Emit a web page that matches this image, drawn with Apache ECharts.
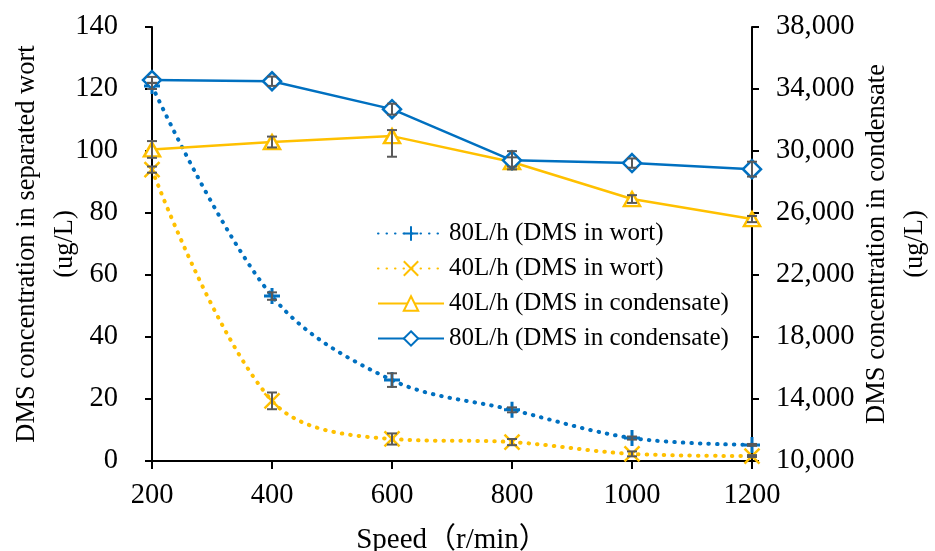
<!DOCTYPE html>
<html>
<head>
<meta charset="utf-8">
<script src="https://cdn.jsdelivr.net/npm/echarts@6/dist/echarts.min.js"></script>
<style>
  html, body { margin: 0; padding: 0; background: #fff; }
  #chart { width: 935px; height: 551px; }
</style>
</head>
<body>
<div id="chart"></div>
<script>
// speeds (r/min)
const speeds = [200, 400, 600, 800, 1000, 1200];

// DMS in wort (ug/L), left axis
const wort80 = [121, 53.2, 26.1, 16.5, 7.4, 5.2];
const wort40 = [94, 19.4, 7.1, 6.1, 2.3, 1.6];
// DMS in condensate (ug/L), right axis
const cond40 = [30100, 30580, 30960, 29290, 26900, 25610];
const cond80 = [34580, 34500, 32700, 29400, 29220, 28830];

// error bars: [minus, plus]
const wort80Err = [[1, 1], [1.2, 1.2], [2.2, 2.2], [0.8, 0.8], [0.5, 0.5], [0.3, 0.3]];
const wort40Err = [[1, 1], [2.7, 2.7], [1.8, 1.8], [1, 1], [0.8, 0.8], [0.3, 0.3]];
const cond40Err = [[540, 540], [350, 350], [1330, 390], [300, 300], [250, 250], [200, 200]];
const cond80Err = [[200, 200], [300, 300], [350, 350], [590, 590], [300, 300], [480, 480]];

const BLUE = '#0070C0';
const YELLOW = '#FFC000';
const GRAY = '#595959';
const FONT = '"Liberation Serif", "Times New Roman", "Noto Sans CJK SC", serif';

const PLUS = 'path://M0,5 L10,5 M5,0 L5,10';
const CROSS = 'path://M0,0 L10,10 M10,0 L0,10';

function pairs(ys) {
  return speeds.map((x, i) => [x, ys[i]]);
}

function errorSeries(ys, err, yIdx) {
  return {
    type: 'custom',
    yAxisIndex: yIdx,
    z: 5,
    silent: true,
    data: speeds.map((x, i) => [x, ys[i] - err[i][0], ys[i] + err[i][1]]),
    encode: { x: 0, y: [1, 2] },
    renderItem(params, api) {
      const lo = api.coord([api.value(0), api.value(1)]);
      const hi = api.coord([api.value(0), api.value(2)]);
      const w = 5;
      const style = { stroke: GRAY, lineWidth: 2 };
      return {
        type: 'group',
        children: [
          { type: 'line', shape: { x1: lo[0], y1: lo[1], x2: hi[0], y2: hi[1] }, style },
          { type: 'line', shape: { x1: lo[0] - w, y1: lo[1], x2: lo[0] + w, y2: lo[1] }, style },
          { type: 'line', shape: { x1: hi[0] - w, y1: hi[1], x2: hi[0] + w, y2: hi[1] }, style }
        ]
      };
    }
  };
}

const chart = echarts.init(document.getElementById('chart'), null, { renderer: 'canvas' });

const axisLine = { show: true, lineStyle: { color: '#000', width: 2 } };
const labelStyle = { color: '#000', fontFamily: FONT, fontSize: 28.5 };
const nameStyle = { color: '#000', fontFamily: FONT, fontSize: 26.5, lineHeight: 38 };

chart.setOption({
  backgroundColor: '#fff',
  animation: false,
  grid: { left: 152, right: 183, top: 27, bottom: 90, outerBoundsMode: 'none', containLabel: false },
  legend: {
    left: 372,
    top: 216,
    orient: 'vertical',
    itemWidth: 66,
    itemHeight: 18,
    itemGap: 10,
    textStyle: { color: '#000', fontFamily: FONT, fontSize: 25 },
    data: [
      '80L/h (DMS in wort)',
      '40L/h (DMS in wort)',
      '40L/h (DMS in condensate)',
      '80L/h (DMS in condensate)'
    ]
  },
  xAxis: {
    type: 'value',
    min: 200,
    max: 1200,
    interval: 200,
    name: 'Speed（r/min）',
    nameLocation: 'middle',
    nameGap: 60,
    nameMoveOverlap: false,
    nameTextStyle: Object.assign({}, nameStyle, { fontSize: 29 }),
    axisLine,
    axisTick: { show: true, length: 8, lineStyle: { color: '#000', width: 2 } },
    axisLabel: Object.assign({ margin: 20, formatter: v => String(v) }, labelStyle),
    splitLine: { show: false }
  },
  yAxis: [
    {
      type: 'value',
      position: 'left',
      min: 0,
      max: 140,
      interval: 20,
      name: 'DMS concentration in separated wort\n(ug/L)',
      nameLocation: 'middle',
      nameRotate: 90,
      nameGap: 68,
      nameMoveOverlap: false,
      nameTextStyle: nameStyle,
      axisLine,
      axisTick: { show: true, length: 7, lineStyle: { color: '#000', width: 2 } },
      axisLabel: Object.assign({ margin: 34 }, labelStyle),
      splitLine: { show: false }
    },
    {
      type: 'value',
      position: 'right',
      min: 10000,
      max: 38000,
      interval: 4000,
      name: 'DMS concentration in condensate\n(ug/L)',
      nameLocation: 'middle',
      nameRotate: 90,
      nameGap: 106,
      nameMoveOverlap: false,
      nameTextStyle: nameStyle,
      axisLine,
      axisTick: { show: true, length: 7, lineStyle: { color: '#000', width: 2 } },
      axisLabel: Object.assign({
        margin: 24,
        formatter: v => v.toLocaleString('en-US')
      }, labelStyle),
      splitLine: { show: false }
    }
  ],
  series: [
    {
      name: '80L/h (DMS in wort)',
      type: 'line',
      yAxisIndex: 0,
      data: pairs(wort80),
      smooth: 0.35,
      symbol: PLUS,
      symbolSize: 16,
      itemStyle: { color: BLUE, borderColor: BLUE, borderWidth: 3 },
      lineStyle: { color: BLUE, width: 4, type: [0.5, 8], cap: 'round' }
    },
    {
      name: '40L/h (DMS in wort)',
      type: 'line',
      yAxisIndex: 0,
      data: pairs(wort40),
      smooth: 0.35,
      symbol: CROSS,
      symbolSize: 15,
      itemStyle: { color: YELLOW, borderColor: YELLOW, borderWidth: 2.5 },
      lineStyle: { color: YELLOW, width: 4, type: [0.5, 8], cap: 'round' }
    },
    {
      name: '40L/h (DMS in condensate)',
      type: 'line',
      yAxisIndex: 1,
      data: pairs(cond40),
      symbol: 'triangle',
      symbolSize: [16, 14],
      itemStyle: { color: '#fff', borderColor: YELLOW, borderWidth: 2.5 },
      lineStyle: { color: YELLOW, width: 2.5 }
    },
    {
      name: '80L/h (DMS in condensate)',
      type: 'line',
      yAxisIndex: 1,
      data: pairs(cond80),
      symbol: 'diamond',
      symbolSize: 18,
      itemStyle: { color: '#fff', borderColor: BLUE, borderWidth: 2.5 },
      lineStyle: { color: BLUE, width: 2.5 }
    },
    errorSeries(wort80, wort80Err, 0),
    errorSeries(wort40, wort40Err, 0),
    errorSeries(cond40, cond40Err, 1),
    errorSeries(cond80, cond80Err, 1)
  ]
});
</script>
</body>
</html>
